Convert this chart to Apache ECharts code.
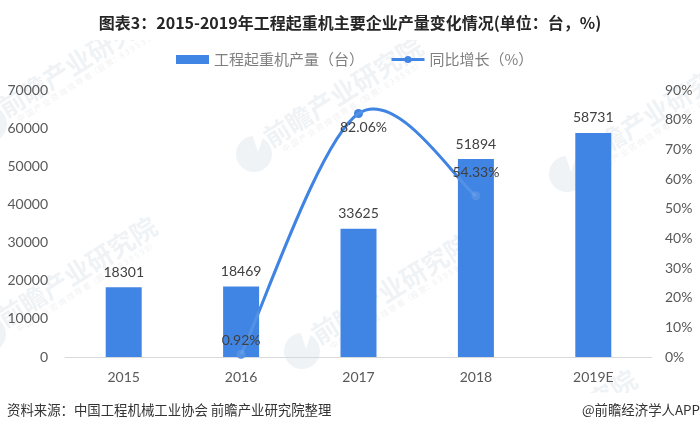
<!DOCTYPE html>
<html>
<head>
<meta charset="utf-8">
<style>html,body{margin:0;padding:0;background:#fff}#chart{width:700px;height:432px}</style>
<script src="https://cdn.jsdelivr.net/npm/echarts@6/dist/echarts.min.js"></script>
</head>
<body>
<div id="chart"></div>
<script>
var years = ['2015', '2016', '2017', '2018', '2019E'];
var output = [18301, 18469, 33625, 51894, 58731];
var growth = [null, 0.92, 82.06, 54.33, null];
var leftTicks = { min: 0, max: 70000, interval: 10000 };
var rightTicks = { min: 0, max: 90, interval: 10 };

var cjk = '"Noto Sans CJK SC", sans-serif';
var latin = 'Lato, "Noto Sans CJK SC", sans-serif';
var labelColor = '#404040';
var axisColor = '#595959';
var blue = '#4085e3';
var curveBlue = '#2b77e0'; // sits under the pale trace, comes out as blue
var wmColor = '#f0f3f6';

// the original curve overshoots the 2017 point, echarts' own smooth clamps that,
// so the curve is drawn from the growth values with catmull-rom style tangents
function curveItem(stroke) {
    return function (params, api) {
        var i = params.dataIndex;
        if (growth[i] == null || growth[i + 1] == null) return;
        var pt = function (k) {
            return growth[k] == null ? null : api.coord([k, growth[k]]);
        };
        var p0 = pt(i), p1 = pt(i + 1);
        var prev = pt(i - 1) || p0, next = pt(i + 2) || p1;
        return {
            type: 'bezierCurve',
            shape: {
                x1: p0[0], y1: p0[1], x2: p1[0], y2: p1[1],
                cpx1: p0[0] + (p1[0] - prev[0]) / 6, cpy1: p0[1] + (p1[1] - prev[1]) / 6,
                cpx2: p1[0] - (next[0] - p0[0]) / 6, cpy2: p1[1] - (next[1] - p0[1]) / 6
            },
            style: { stroke: stroke, lineWidth: 3, fill: null }
        };
    };
}

// watermark: logo disc + big name + small line, all tilted
function watermark(x, y) {
    var rot = 32 * Math.PI / 180;
    return [
        { type: 'circle', z: 0, silent: true, shape: { cx: x - 12, cy: y + 14, r: 18 }, style: { fill: wmColor } },
        { type: 'polygon', z: 0, silent: true,
          shape: { points: [[x - 14, y - 6], [x - 8, y + 12], [x - 2, y - 6]] }, style: { fill: '#fff' } },
        { type: 'text', z: 0, silent: true, x: x, y: y, rotation: rot,
          style: { text: '前瞻产业研究院', font: 'bold 26px ' + cjk, fill: wmColor, textAlign: 'left', textVerticalAlign: 'middle' } },
        { type: 'text', z: 0, silent: true, x: x + 17, y: y + 10, rotation: rot,
          style: { text: '中 国 产 业 咨 询 领 导 者（股 票：8 3 9 5 9 9）', font: '8px ' + cjk, fill: '#f1f1f1', textAlign: 'left', textVerticalAlign: 'middle' } }
    ];
}

var marks = [].concat(
    watermark(1, 110), watermark(266, 140), watermark(579, 160),
    watermark(0, 320), watermark(314, 337), watermark(480, 473)
);
// the marks stop at the title and footer bands
marks.push(
    { type: 'rect', z: 0, silent: true, shape: { x: 0, y: 0, width: 700, height: 40 }, style: { fill: '#fff' } },
    { type: 'rect', z: 0, silent: true, shape: { x: 0, y: 393, width: 700, height: 39 }, style: { fill: '#fff' } }
);

var chart = echarts.init(document.getElementById('chart'));
chart.setOption({
    animation: false,
    textStyle: { fontFamily: cjk },
    graphic: marks,
    title: [
        { text: '图表3：2015-2019年工程起重机主要企业产量变化情况(单位：台，%)', left: 'center', top: 10,
          textStyle: { fontSize: 16, fontWeight: 'bold', color: '#262626', fontFamily: cjk } },
        { text: '资料来源：中国工程机械工业协会 前瞻产业研究院整理', left: 7, top: 403, padding: 0,
          textStyle: { fontSize: 13.4, fontWeight: 'normal', color: '#333', fontFamily: cjk } },
        { text: '@前瞻经济学人APP', right: 0, top: 403, padding: 0,
          textStyle: { fontSize: 13.4, fontWeight: 'normal', color: '#333', fontFamily: cjk } }
    ],
    legend: {
        top: 47, left: 171, itemWidth: 33, itemHeight: 9, itemGap: 26,
        textStyle: { fontSize: 15, color: '#7f7f7f' },
        data: [
            { name: '工程起重机产量（台）', icon: 'rect' },
            { name: '同比增长（%）', lineStyle: { color: blue, width: 3, opacity: 1 } }
        ]
    },
    grid: { left: 65, right: 48, top: 90, bottom: 75 },
    xAxis: {
        type: 'category', data: years,
        axisLine: { lineStyle: { color: '#d9d9d9' } },
        axisTick: { show: false },
        axisLabel: { color: axisColor, fontSize: 14, margin: 13, fontFamily: latin }
    },
    yAxis: [
        Object.assign({ type: 'value', position: 'left', splitLine: { show: false },
            axisLine: { show: false }, axisTick: { show: false },
            axisLabel: { color: axisColor, fontSize: 14, margin: 17, fontFamily: latin,
                formatter: function (v) { return String(v); } } }, leftTicks),
        Object.assign({ type: 'value', position: 'right', splitLine: { show: false },
            axisLine: { show: false }, axisTick: { show: false },
            axisLabel: { color: axisColor, fontSize: 14, margin: 13, fontFamily: latin, formatter: '{value}%' } }, rightTicks)
    ],
    series: [
        {
            name: 'growthCurve', type: 'custom', yAxisIndex: 1, z: 1, silent: true,
            data: growth.map(function (v, i) { return [i, v]; }),
            encode: { x: 0, y: 1 },
            renderItem: curveItem(curveBlue)
        },
        {
            name: '同比增长（%）', type: 'line', yAxisIndex: 1, z: 1,
            data: growth, symbol: 'circle', symbolSize: 9,
            lineStyle: { color: blue, width: 3, opacity: 0 }, itemStyle: { color: blue }
        },
        {
            name: '工程起重机产量（台）', type: 'bar', z: 2, barWidth: 36,
            data: output, itemStyle: { color: blue },
            label: { show: true, position: 'top', distance: 8, color: labelColor, fontSize: 14, fontFamily: latin }
        },
        {
            // pale trace of the curve showing through the bars
            name: 'growthTrace', type: 'custom', yAxisIndex: 1, z: 3, silent: true,
            data: growth.map(function (v, i) { return [i, v]; }),
            encode: { x: 0, y: 1 },
            renderItem: curveItem('rgba(255,255,255,0.1)')
        },
        {
            // percent labels have to sit above the bars
            name: 'growthLabels', type: 'line', yAxisIndex: 1, z: 4, silent: true,
            data: growth, symbol: 'circle', symbolSize: 9,
            lineStyle: { opacity: 0 },
            itemStyle: { color: function (p) { return p.dataIndex === 2 ? 'rgba(0,0,0,0)' : 'rgba(255,255,255,0.1)'; } },
            label: {
                show: true, position: 'top', distance: 4, color: labelColor, fontSize: 14, fontFamily: latin,
                formatter: function (p) { return p.value + '%'; }
            },
            labelLayout: function (p) {
                if (p.dataIndex === 1) return { dy: 2 };
                if (p.dataIndex === 2) return { dx: 5, dy: 29 };
                return { dy: -8 };
            }
        }
    ]
});
</script>
</body>
</html>
